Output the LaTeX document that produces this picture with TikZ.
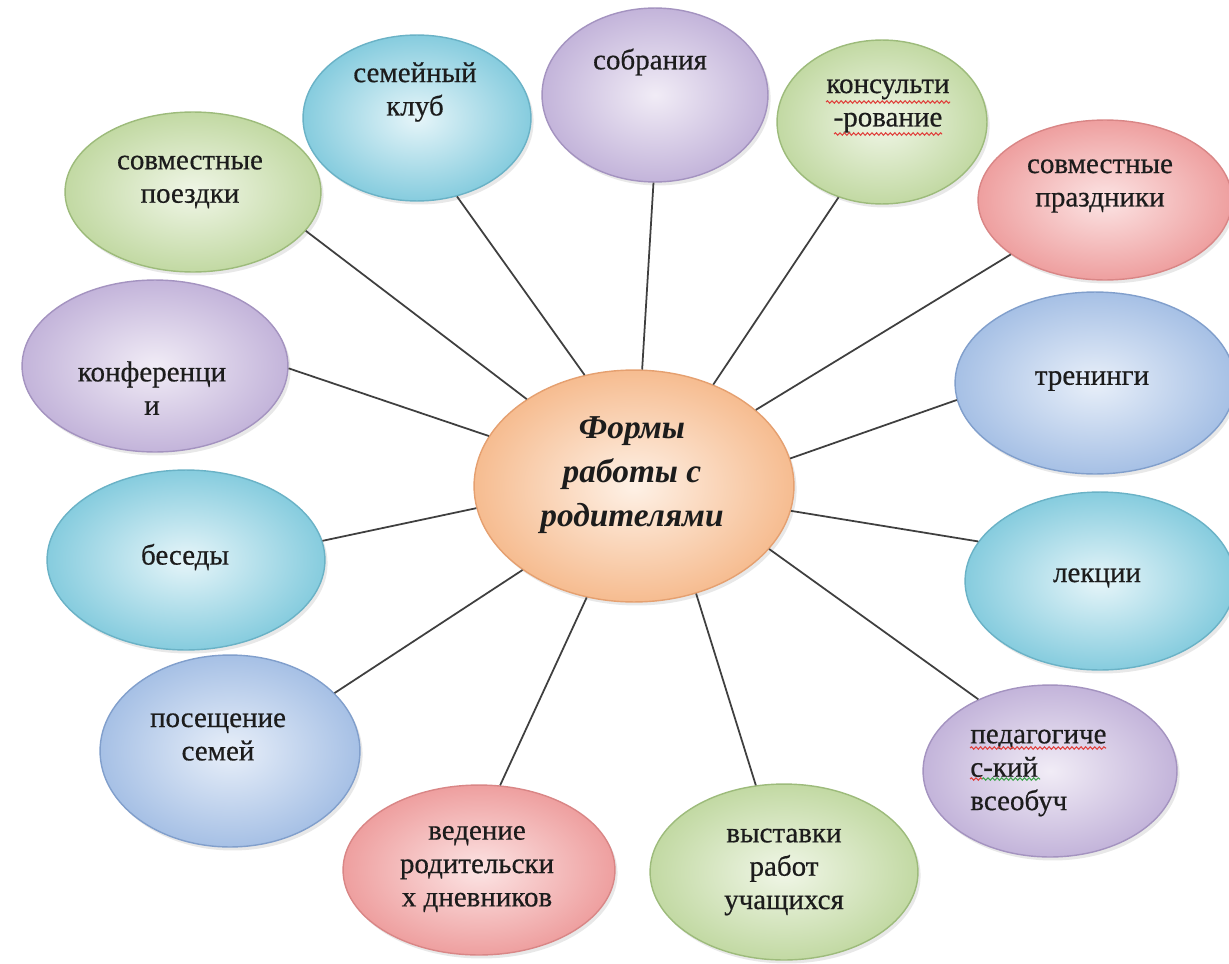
\documentclass[tikz,border=0pt]{standalone}
\usepackage{fontspec}
\setmainfont{Liberation Serif}
\newfontfamily\capfont{Liberation Serif}[FakeBold=0.5]
\usetikzlibrary{shapes.geometric, shadows, decorations.pathmorphing}

\definecolor{cyanin}{HTML}{E6F5F9}
\definecolor{cyanout}{HTML}{86CCDE}
\definecolor{cyanline}{HTML}{6AB2C6}
\definecolor{violetin}{HTML}{F1ECF6}
\definecolor{violetout}{HTML}{C3B4DA}
\definecolor{violetline}{HTML}{A493C0}
\definecolor{greenin}{HTML}{F0F6E7}
\definecolor{greenout}{HTML}{C2D9A3}
\definecolor{greenline}{HTML}{9DBB7B}
\definecolor{pinkin}{HTML}{FCE4E4}
\definecolor{pinkout}{HTML}{EE9F9F}
\definecolor{pinkline}{HTML}{D98686}
\definecolor{bluein}{HTML}{E8EFF9}
\definecolor{blueout}{HTML}{A6C0E5}
\definecolor{blueline}{HTML}{819FCC}
\definecolor{orangein}{HTML}{FEF1E6}
\definecolor{orangeout}{HTML}{F6BC90}
\definecolor{orangeline}{HTML}{E5A070}
\definecolor{inktext}{HTML}{1C1C1C}
\definecolor{spokegray}{HTML}{3F3F3F}
\definecolor{spellred}{HTML}{E0403C}
\definecolor{spellgreen}{HTML}{3FA34D}

\begin{document}
\begin{tikzpicture}[
  x=0.02cm, y=-0.02cm,
  bubble/.style n args={3}{ellipse, minimum width=#1*0.04cm, minimum height=#2*0.04cm,
    inner sep=0pt, draw=#3line, line width=0.8pt, inner color=#3in, outer color=#3out,
    drop shadow={shadow xshift=1.5pt, shadow yshift=-2pt, opacity=0.18}},
  caption/.style={font=\capfont\fontsize{16.5}{19}\selectfont, text=inktext, align=center, inner sep=0pt},
  spoke/.style={draw=spokegray, line width=1pt},
  squiggle/.style={draw=#1, line width=0.6pt, decorate,
    decoration={snake, amplitude=0.7pt, segment length=2.6pt}},
]

% Background
\useasboundingbox (0,0) rectangle (1229,963);
\fill[white] (0,0) rectangle (1229,963);

% === Outer bubbles ===
\node[bubble={114}{83}{cyan}]   (klub)  at (417,118) {};
\node[bubble={113}{87}{violet}] (sobr)  at (655,95)  {};
\node[bubble={105}{82}{green}]  (kons)  at (882,122) {};
\node[bubble={127}{80}{pink}]   (prazd) at (1105,200) {};
\node[bubble={128}{80}{green}]  (poezd) at (193,192) {};
\node[bubble={133}{86}{violet}] (konf)  at (155,366) {};
\node[bubble={140}{91}{blue}]   (tren)  at (1095,383) {};
\node[bubble={139}{90}{cyan}]   (bes)   at (186,560) {};
\node[bubble={135}{89}{cyan}]   (lekc)  at (1100,581) {};
\node[bubble={130}{96}{blue}]   (pos)   at (230,751) {};
\node[bubble={127}{86}{violet}] (ped)   at (1050,771) {};
\node[bubble={136}{85}{pink}]   (ved)   at (479,870) {};
\node[bubble={134}{88}{green}]  (vyst)  at (784,872) {};

% === Centre bubble ===
\node[bubble={160}{116}{orange}] (centre) at (634,486) {};

% === Texts ===
\node[caption] (klub-t)  at (415,92)  {семейный\\клуб};
\node[caption] (sobr-t)  at (650,62)  {собрания};
\node[caption] (kons-t)  at (888,106) {консульти\\-рование};
\node[caption] (prazd-t) at (1100,186) {совместные\\праздники};
\node[caption] (poezd-t) at (190,182) {совместные\\поездки};
\node[caption] (konf-t)  at (152,388) {конференци\\и};
\node[caption] (tren-t)  at (1092,381) {тренинги};
\node[caption] (bes-t)   at (185,557) {беседы};
\node[caption] (lekc-t)  at (1097,578) {лекции};
\node[caption] (pos-t)   at (218,737) {посещение\\семей};
\node[caption, align=left, anchor=west] (ped-t) at (970,773)
  {педагогиче\\с-кий\\всеобуч};
\node[caption] (ved-t)   at (477,869) {ведение\\родительски\\х дневников};
\node[caption] (vyst-t)  at (784,872) {выставки\\работ\\учащихся};
\node[caption, font=\fontsize{19}{25}\selectfont\bfseries\itshape] (centre-t) at (632,475)
  {Формы\\работы с\\родителями};

% spell-check marks
\draw[squiggle=spellred] (826,102) -- (950,102);
\draw[squiggle=spellred] (834,134) -- (942,134);
\draw[squiggle=spellred] (970,748) -- (1106,748);
\draw[squiggle=spellred] (970,779) -- (982,779);
\draw[squiggle=spellgreen] (982,779) -- (1040,779);

% === Spokes ===
\draw[spoke] (klub.-63)   -- (centre.114);
\draw[spoke] (sobr.-91)   -- (centre.86);
\draw[spoke] (kons.-120)  -- (centre.52);
\draw[spoke] (prazd.-150) -- (centre.32);
\draw[spoke] (tren.-173)  -- (centre.10);
\draw[spoke] (lekc.162)   -- (centre.-9);
\draw[spoke] (ped.135)    -- (centre.-25);
\draw[spoke] (vyst.108)   -- (centre.-60);
\draw[spoke] (ved.76)     -- (centre.-113);
\draw[spoke] (pos.29)     -- (centre.-143);
\draw[spoke] (bes.8)      -- (centre.-172);
\draw[spoke] (konf.-1)    -- (centre.161);
\draw[spoke] (poezd.-19)  -- (centre.141);

\end{tikzpicture}
\end{document}
